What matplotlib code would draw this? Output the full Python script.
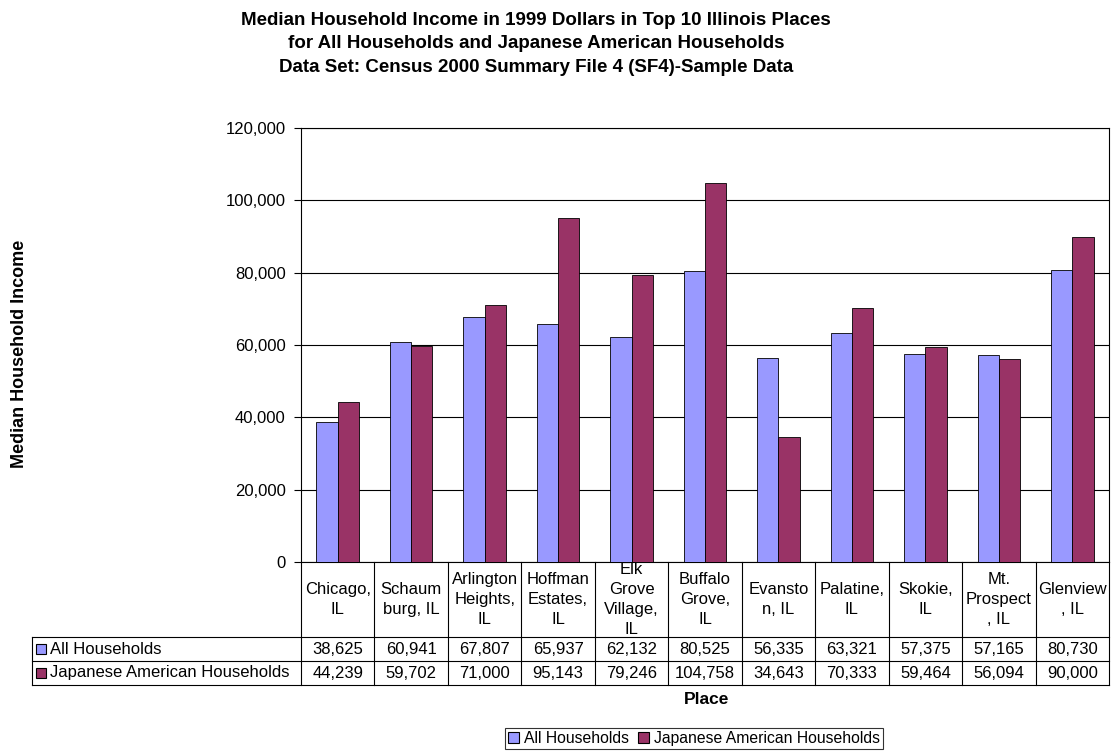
import matplotlib
matplotlib.use("Agg")
import matplotlib.pyplot as plt
import matplotlib.transforms as mtransforms
from matplotlib.patches import Patch, Rectangle
import numpy as np

plt.rcParams['font.family'] = ['Liberation Sans', 'DejaVu Sans']

places = ["Chicago,\nIL", "Schaum\nburg, IL", "Arlington\nHeights,\nIL", "Hoffman\nEstates,\nIL",
          "Elk\nGrove\nVillage,\nIL", "Buffalo\nGrove,\nIL", "Evansto\nn, IL", "Palatine,\nIL",
          "Skokie,\nIL", "Mt.\nProspect\n, IL", "Glenview\n, IL"]
all_hh = [38625, 60941, 67807, 65937, 62132, 80525, 56335, 63321, 57375, 57165, 80730]
jap_hh = [44239, 59702, 71000, 95143, 79246, 104758, 34643, 70333, 59464, 56094, 90000]
series_names = ["All Households", "Japanese American Households"]
colors = ["#9999FF", "#993366"]

W, H = 1114, 753
fig = plt.figure(figsize=(W / 100, H / 100), dpi=100)

# plot area in pixels
L, R, T, B = 301, 1109, 128, 562
ax = fig.add_axes([L / W, 1 - B / H, (R - L) / W, (B - T) / H])

x = np.arange(len(places))
bw = 0.29
ax.bar(x - bw / 2, all_hh, bw, color=colors[0], edgecolor="black", linewidth=0.6, zorder=3)
ax.bar(x + bw / 2, jap_hh, bw, color=colors[1], edgecolor="black", linewidth=0.6, zorder=3)

ax.set_xlim(-0.5, len(places) - 0.5)
ax.set_ylim(0, 120000)
ax.set_yticks(np.arange(0, 120001, 20000))
ax.set_yticklabels([f"{v:,}" for v in range(0, 120001, 20000)], fontsize=12)
ax.set_xticks([])
ax.yaxis.grid(True, color="black", linewidth=0.8, zorder=0)
ax.tick_params(axis="y", length=5, width=0.8, direction="out", pad=6)
for s in ax.spines.values():
    s.set_linewidth(0.8)
    s.set_color("black")

# data table below the plot
tr = mtransforms.blended_transform_factory(ax.transData, ax.transAxes)
ph = B - T
y_hdr = -(637 - B) / ph
y_r1 = -(661 - B) / ph
y_r2 = -(685 - B) / ph
x_left = -0.5 - (L - 32) / ((R - L) / len(places))
x_right = len(places) - 0.5
lw = 0.8
for xv in np.arange(-0.5, len(places), 1.0):
    ax.plot([xv, xv], [0, y_r2], color="black", lw=lw, transform=tr, clip_on=False)
for yv in [y_hdr, y_r1, y_r2]:
    ax.plot([x_left, x_right], [yv, yv], color="black", lw=lw, transform=tr, clip_on=False)
ax.plot([x_left, x_left], [y_hdr, y_r2], color="black", lw=lw, transform=tr, clip_on=False)

# header labels are cut off at the plot edge, as in the source chart
clip_rect = Rectangle((0, y_r2), 1, -y_r2, transform=ax.transAxes)
for i, p in enumerate(places):
    t = ax.text(i, y_hdr / 2, p, ha="center", va="center", fontsize=12, linespacing=1.4,
                transform=tr)
    t.set_clip_path(clip_rect)
for row, (vals, yc) in enumerate([(all_hh, (y_hdr + y_r1) / 2), (jap_hh, (y_r1 + y_r2) / 2)]):
    for i, v in enumerate(vals):
        ax.text(i, yc, f"{v:,}", ha="center", va="center", fontsize=12, transform=tr)
    # legend key inside the row header cell
    fx = 36 / W
    fy = 1 - (B - yc * ph) / H
    fig.patches.append(Rectangle((fx, fy - 5 / H), 10 / W, 10 / H, transform=fig.transFigure,
                                 facecolor=colors[row], edgecolor="black", linewidth=0.8))
    fig.text(50 / W, fy, series_names[row], ha="left", va="center", fontsize=12)

# titles
fig.text(536 / W, 1 - 44 / H,
         "Median Household Income in 1999 Dollars in Top 10 Illinois Places\n"
         "for All Households and Japanese American Households\n"
         "Data Set: Census 2000 Summary File 4 (SF4)-Sample Data",
         ha="center", va="center", fontsize=13.5, fontweight="bold", linespacing=1.47)
fig.text(20 / W, 1 - 354 / H, "Median Household Income", rotation=90, ha="center", va="center",
         fontsize=13, fontweight="bold")
fig.text(707 / W, 1 - 700 / H, "Place", ha="center", va="center", fontsize=12.5, fontweight="bold")

handles = [Patch(facecolor=c, edgecolor="black", linewidth=0.8) for c in colors]
leg = fig.legend(handles, series_names, loc="upper left", bbox_to_anchor=(505 / W, 1 - 728 / H),
                 ncol=2, fontsize=11.3, frameon=True, fancybox=False, handlelength=0.7,
                 handleheight=0.7, handletextpad=0.3, columnspacing=0.6, borderpad=0.2,
                 borderaxespad=0)
leg.get_frame().set_edgecolor("black")
leg.get_frame().set_linewidth(0.8)

fig.savefig("out.png", dpi=100)
